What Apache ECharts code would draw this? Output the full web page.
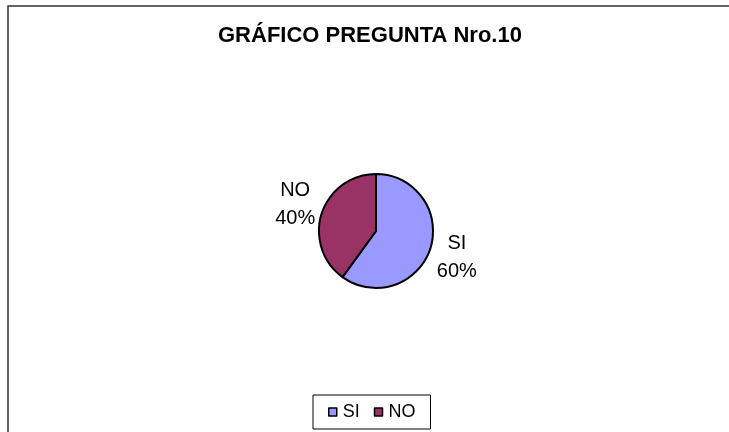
<!DOCTYPE html>
<html>
<head>
<meta charset="utf-8">
<script src="https://cdn.jsdelivr.net/npm/echarts@6/dist/echarts.min.js"></script>
<style>
  html, body { margin: 0; padding: 0; background: #fff; }
  #chart { width: 729px; height: 432px; }
</style>
</head>
<body>
<div id="chart"></div>
<script>
// datos del gráfico
const categories = ['SI', 'NO']
const values = [60, 40]
const sliceColors = ['#9999FF', '#993366']
const chartTitle = 'GRÁFICO PREGUNTA Nro.10'

const font = '"Liberation Sans", Arial, sans-serif'
const pieData = categories.map((name, i) => ({
  name: name,
  value: values[i],
  itemStyle: { color: sliceColors[i] }
}))

const chart = echarts.init(document.getElementById('chart'))

chart.setOption({
  animation: false,
  backgroundColor: '#fff',
  title: {
    text: chartTitle,
    left: 218,
    top: 25,
    padding: 0,
    textStyle: { fontFamily: font, fontSize: 22, fontWeight: 'bold', color: '#000' }
  },
  legend: {
    left: 313,
    top: 395,
    orient: 'horizontal',
    icon: 'rect',
    itemWidth: 8,
    itemHeight: 8,
    itemGap: 14,
    padding: [8, 15],
    borderColor: '#000',
    borderWidth: 1,
    selectedMode: false,
    itemStyle: { borderColor: '#000', borderWidth: 1.5 },
    textStyle: { fontFamily: font, fontSize: 18, color: '#000', padding: [0, 0, 0, 1] },
    data: categories
  },
  // marco del gráfico (solo se ven los bordes superior e izquierdo)
  graphic: [{
    type: 'rect',
    shape: { x: 8, y: 6, width: 800, height: 500 },
    style: { fill: 'none', stroke: '#333', lineWidth: 1.5 },
    silent: true
  }],
  series: [
    {
      name: 'pregunta10',
      type: 'pie',
      center: [376, 231],
      radius: 57,
      startAngle: 90,
      clockwise: true,
      label: { show: false },
      labelLine: { show: false },
      itemStyle: { borderColor: '#000', borderWidth: 2 },
      emphasis: { disabled: true },
      data: pieData
    },
    {
      // anillo invisible solo para colocar las etiquetas
      name: 'etiquetas',
      type: 'pie',
      center: [376, 231],
      radius: [57, 107],
      startAngle: 90,
      clockwise: true,
      silent: true,
      legendHoverLink: false,
      itemStyle: { color: 'rgba(0,0,0,0)', borderWidth: 0 },
      label: {
        show: true,
        position: 'inside',
        formatter: '{b}\n{d}%',
        fontFamily: font,
        fontSize: 20,
        lineHeight: 28,
        color: '#000',
        align: 'center'
      },
      labelLine: { show: false },
      emphasis: { disabled: true },
      data: categories.map((name, i) => ({ name: name, value: values[i] }))
    }
  ]
})
</script>
</body>
</html>
